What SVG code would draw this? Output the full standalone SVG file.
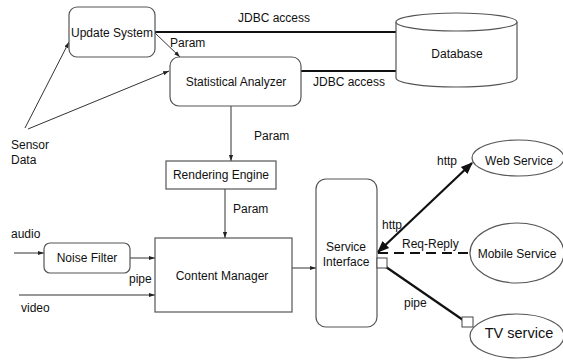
<svg xmlns="http://www.w3.org/2000/svg" width="563" height="361" viewBox="0 0 563 361">
  <style>
    text { font-family: "Liberation Sans", Arial, sans-serif; font-size: 12px; fill: #111; }
    .mid { text-anchor: middle; }
    .box { fill: #fff; stroke: #555; stroke-width: 1.2; }
    .ln { fill: none; stroke: #333; stroke-width: 1; }
    .thick { fill: none; stroke: #111; stroke-width: 2.2; }
    .port { fill: #fff; stroke: #444; stroke-width: 1; }
  </style>
  <defs>
    <marker id="arr" viewBox="0 0 10 10" refX="10" refY="5" markerWidth="6" markerHeight="6" orient="auto" markerUnits="userSpaceOnUse">
      <path d="M0,1.5 L10,5 L0,8.5 z" fill="#222"/>
    </marker>
    <marker id="arrBig" viewBox="0 0 10 10" refX="9" refY="5" markerWidth="12" markerHeight="12" orient="auto-start-reverse" markerUnits="userSpaceOnUse">
      <path d="M0,1 L10,5 L0,9 z" fill="#111"/>
    </marker>
  </defs>

  <!-- connectors -->
  <g id="connectors">
    <line class="thick" x1="155" y1="32" x2="396" y2="32" stroke-width="1.8"/>
    <line class="thick" x1="301" y1="71" x2="396" y2="71" stroke-width="1.5"/>
    <line class="ln" x1="155" y1="33" x2="180" y2="57" marker-end="url(#arr)"/>
    <line class="ln" x1="25" y1="128" x2="69" y2="42" marker-end="url(#arr)"/>
    <line class="ln" x1="28" y1="129" x2="169" y2="71" marker-end="url(#arr)"/>
    <line class="ln" x1="231" y1="106" x2="231" y2="161" marker-end="url(#arr)"/>
    <line class="ln" x1="225" y1="189" x2="225" y2="238" marker-end="url(#arr)"/>
    <line class="ln" x1="14" y1="253" x2="44" y2="253" marker-end="url(#arr)"/>
    <line class="ln" x1="130" y1="258" x2="155" y2="258" marker-end="url(#arr)"/>
    <line class="ln" x1="19" y1="295" x2="155" y2="295" marker-end="url(#arr)"/>
    <line class="ln" x1="292" y1="268" x2="316" y2="268" marker-end="url(#arr)"/>
    <line class="thick" x1="378" y1="252" x2="472" y2="163" marker-start="url(#arrBig)" marker-end="url(#arrBig)"/>
    <line class="thick" x1="378" y1="253" x2="470" y2="253" stroke-width="3" stroke-dasharray="10,6"/>
    <line class="thick" x1="386" y1="267" x2="463" y2="320" stroke-width="1.8"/>
  </g>

  <!-- connector labels -->
  <g id="labels">
    <text x="238" y="22">JDBC access</text>
    <text x="313" y="86">JDBC access</text>
    <text x="170" y="47">Param</text>
    <text x="254" y="140">Param</text>
    <text x="233" y="213">Param</text>
    <text x="11" y="149">Sensor</text>
    <text x="11" y="164">Data</text>
    <text x="11" y="238">audio</text>
    <text x="129" y="283">pipe</text>
    <text x="21" y="312">video</text>
    <text x="437" y="165">http</text>
    <text x="382" y="229">http</text>
    <text x="402" y="248">Req-Reply</text>
    <text x="404" y="307">pipe</text>
  </g>

  <g id="update-system">
    <rect class="box" x="69" y="7" width="86" height="50" rx="8"/>
    <text class="mid" x="112" y="37">Update System</text>
  </g>

  <g id="statistical-analyzer">
    <rect class="box" x="170" y="57" width="131" height="49" rx="9"/>
    <text class="mid" x="236" y="86">Statistical Analyzer</text>
  </g>

  <g id="database">
    <path class="box" d="M396,22 L396,78 A60.5,9 0 0 0 517,78 L517,22"/>
    <ellipse class="box" cx="456.5" cy="22" rx="60.5" ry="9"/>
    <text class="mid" x="457" y="58">Database</text>
  </g>

  <g id="rendering-engine">
    <rect class="box" x="166" y="161" width="110" height="28"/>
    <text class="mid" x="221" y="179">Rendering Engine</text>
  </g>

  <g id="noise-filter">
    <rect class="box" x="44" y="243" width="86" height="30" rx="6"/>
    <text class="mid" x="87" y="262">Noise Filter</text>
  </g>

  <g id="content-manager">
    <rect class="box" x="155" y="238" width="137" height="74"/>
    <text class="mid" x="222" y="280">Content Manager</text>
  </g>

  <g id="service-interface">
    <rect class="box" x="316" y="179" width="61" height="148" rx="10"/>
    <text class="mid" x="346" y="251">Service</text>
    <text class="mid" x="346" y="266">Interface</text>
    <rect class="port" x="377" y="258" width="10" height="10"/>
  </g>

  <g id="web-service">
    <ellipse class="box" cx="518" cy="158" rx="46" ry="18"/>
    <text class="mid" x="519" y="165">Web Service</text>
  </g>

  <g id="mobile-service">
    <ellipse class="box" cx="517" cy="253" rx="47" ry="30"/>
    <text class="mid" x="517" y="258">Mobile Service</text>
  </g>

  <g id="tv-service">
    <ellipse class="box" cx="517" cy="336" rx="47" ry="22"/>
    <text class="mid" x="519" y="338" style="font-size:14.5px">TV service</text>
    <rect class="port" x="462" y="317" width="11" height="10"/>
  </g>
</svg>
